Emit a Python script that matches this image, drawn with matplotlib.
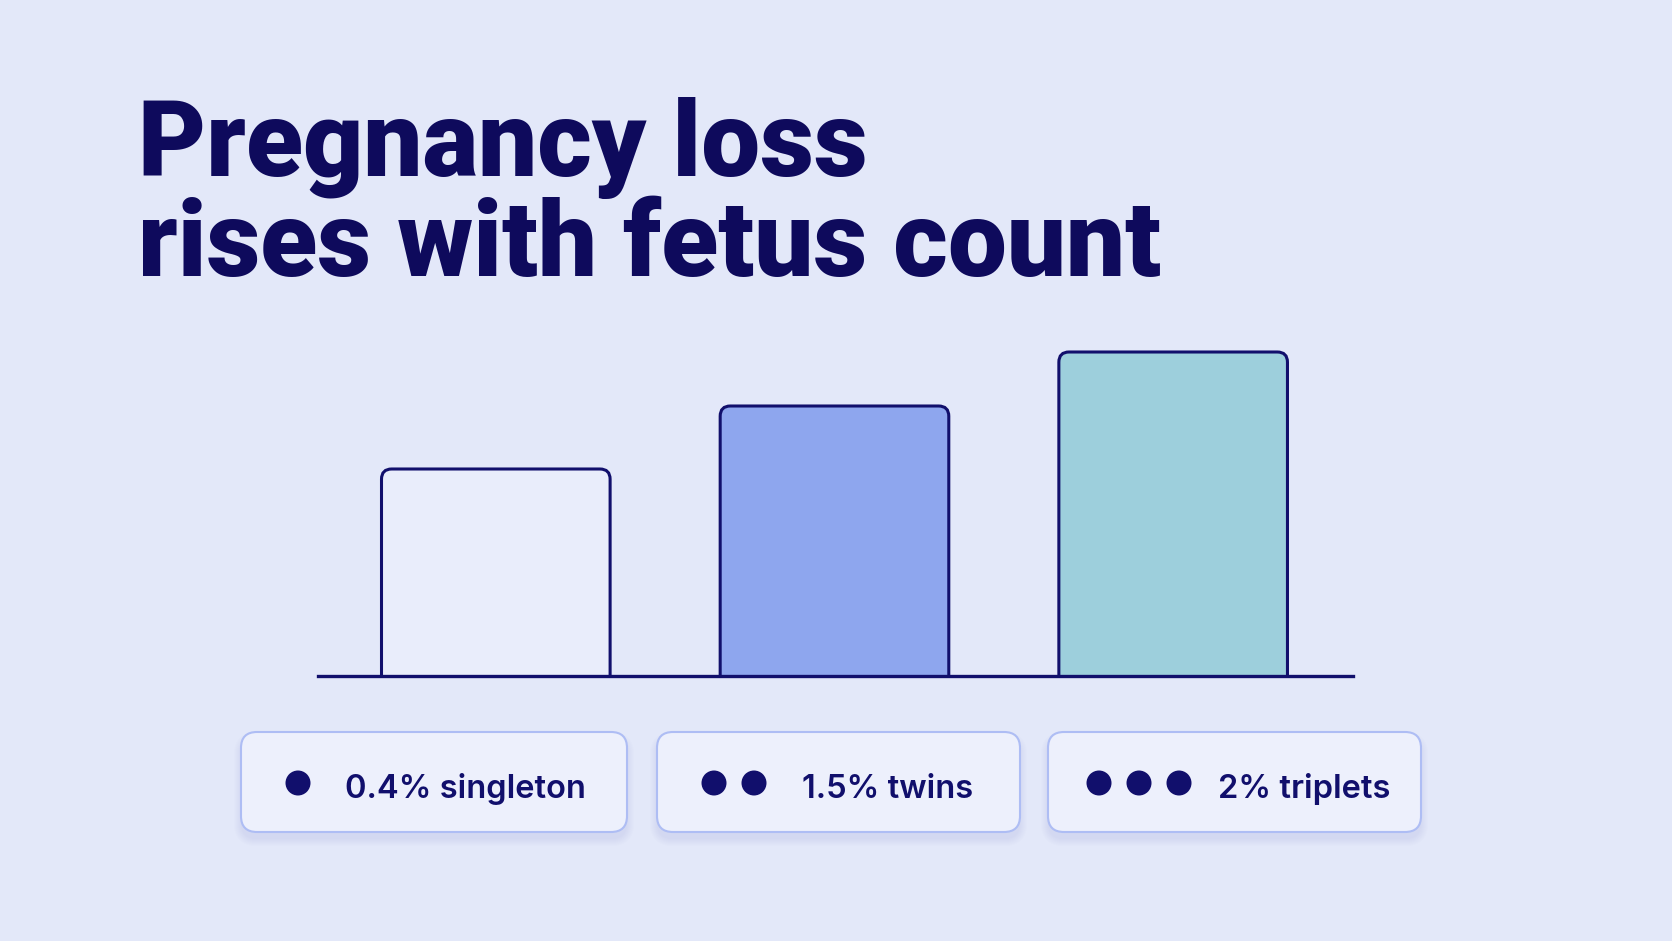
import matplotlib
matplotlib.use("Agg")
import matplotlib.pyplot as plt
from matplotlib.patches import FancyBboxPatch, Circle

# data
categories = ["singleton", "twins", "triplets"]
loss_pct = ["0.4%", "1.5%", "2%"]
fetus_count = [1, 2, 3]
# bar heights as drawn (arbitrary units, not proportional to the percentages)
bar_heights = [2.07, 2.70, 3.24]

title_lines = ["Pregnancy loss", "rises with fetus count"]

BG = "#E3E8F9"
NAVY = "#110F6C"
TITLE_COL = "#0E0A5C"
BAR_FILLS = ["#E9EDFB", "#8EA6EE", "#9DCFDC"]
BOX_FILL = "#EDF0FC"
BOX_EDGE = "#AEBDF4"

W, H = 1672, 941
fig = plt.figure(figsize=(W / 100, H / 100), dpi=100, facecolor=BG)

# background axes in pixel units (title + legend chips)
bg = fig.add_axes([0, 0, 1, 1])
bg.set_xlim(0, W)
bg.set_ylim(H, 0)
bg.axis("off")
bg.set_facecolor(BG)

for i, line in enumerate(title_lines):
    bg.text(138, 176 + i * 100, line, fontsize=75.5, fontweight="black",
            family=["Roboto", "Liberation Sans", "DejaVu Sans"], color=TITLE_COL,
            va="baseline", ha="left")

# bar axes
base_px, top_px = 676, 326
left_px, right_px = 318, 1353
ax = fig.add_axes([left_px / W, (H - base_px) / H,
                   (right_px - left_px) / W, (base_px - top_px) / H])
ax.set_xlim(-0.525, 2.531)
ax.set_ylim(0, 3.5)
ax.axis("off")
ax.patch.set_alpha(0)

bw = 0.675
for i, (h, c) in enumerate(zip(bar_heights, BAR_FILLS)):
    p = FancyBboxPatch((i - bw / 2, -0.3), bw, h + 0.3,
                       boxstyle="round,pad=0,rounding_size=0.03",
                       mutation_aspect=3.4, facecolor=c, edgecolor=NAVY,
                       linewidth=2.2)
    ax.add_patch(p)
ax.axhline(0, color=NAVY, linewidth=2.4, clip_on=False, zorder=5)

# legend chips
chip_x = [241, 657, 1048]
chip_w = [386, 363, 373]
chip_y, chip_h = 732, 100
dot_x0 = [298, 714, 1099]
dot_gap = 40
text_x = [345, 802, 1218]

for k in range(3):
    # soft shadow
    for s in range(8):
        sh = FancyBboxPatch((chip_x[k] - s, chip_y + 7 - s), chip_w[k] + 2 * s,
                            chip_h + 2 * s,
                            boxstyle=f"round,pad=0,rounding_size={16 + s}",
                            facecolor="#7F8FD8", edgecolor="none", alpha=0.018)
        bg.add_patch(sh)
    chip = FancyBboxPatch((chip_x[k], chip_y), chip_w[k], chip_h,
                          boxstyle="round,pad=0,rounding_size=16",
                          facecolor=BOX_FILL, edgecolor=BOX_EDGE, linewidth=1.5)
    bg.add_patch(chip)
    for d in range(fetus_count[k]):
        bg.add_patch(Circle((dot_x0[k] + d * dot_gap, chip_y + 51), 12.5,
                            facecolor=NAVY, edgecolor="none"))
    bg.text(text_x[k], chip_y + 66, f"{loss_pct[k]} {categories[k]}",
            fontsize=23.5, fontweight="semibold", family=["Inter", "DejaVu Sans"],
            color=NAVY, va="baseline", ha="left")

fig.savefig("out.png", dpi=100, facecolor=BG)
